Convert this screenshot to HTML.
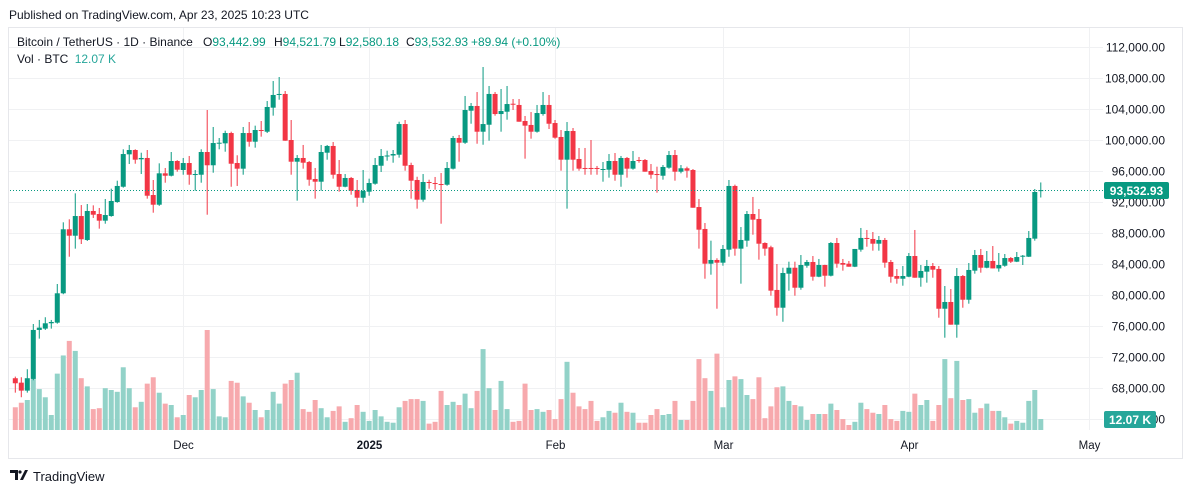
<!DOCTYPE html>
<html><head><meta charset="utf-8"><style>
html,body{margin:0;padding:0;background:#fff;}
body{width:1192px;height:494px;overflow:hidden;font-family:"Liberation Sans",sans-serif;}
svg{display:block}
</style></head><body>
<svg id="chart" width="1192" height="494" viewBox="0 0 1192 494" xmlns="http://www.w3.org/2000/svg" font-family="Liberation Sans, sans-serif">
<text x="9" y="19" font-size="12" fill="#131722">Published on TradingView.com, Apr 23, 2025 10:23 UTC</text>
<rect x="8.5" y="27.5" width="1174" height="431" fill="#fff" stroke="#e6e7eb"/>
<g id="grid"></g>
<g id="vols"></g>
<g id="candles"></g>
<line x1="10" x2="1103" y1="190.5" y2="190.5" stroke="#089981" stroke-dasharray="1,2" stroke-width="1"/>
<g id="yaxis"></g>
<g id="xaxis"></g>
<rect x="1104" y="182" width="65" height="17" rx="2" fill="#089981"/>
<text x="1136.5" y="195" font-size="12" font-weight="bold" fill="#fff" text-anchor="middle">93,532.93</text>
<rect x="1104" y="411" width="52" height="17" rx="2" fill="#26a69a"/>
<text x="1130" y="424" font-size="12" font-weight="bold" fill="#fff" text-anchor="middle">12.07 K</text>
<g font-size="12">
<text x="17" y="46" fill="#131722">Bitcoin / TetherUS · 1D · Binance</text>
<text x="203" y="46" fill="#131722">O<tspan fill="#089981">93,442.99</tspan></text>
<text x="274" y="46" fill="#131722">H<tspan fill="#089981">94,521.79</tspan></text>
<text x="339" y="46" fill="#131722">L<tspan fill="#089981">92,580.18</tspan></text>
<text x="406" y="46" fill="#131722">C<tspan fill="#089981">93,532.93</tspan></text>
<text x="471" y="46" fill="#089981">+89.94 (+0.10%)</text>
<text x="17" y="63" fill="#131722">Vol · BTC <tspan dx="3" fill="#26a69a">12.07 K</tspan></text>
</g>
<g>
<path d="M10 470 h8 v10 h-3 v-7 h-5z M20 480 l5 -10 h3 l-5 10z" fill="#131722"/>
<circle cx="20" cy="472" r="1.6" fill="#131722"/>
<text x="33" y="481" font-size="13" fill="#131722">TradingView</text>
</g>
</svg>
<script>
const opens=[69260,68690,67660,69170,75490,75660,76350,76430,80220,88480,87650,90190,87100,90840,90450,89590,90190,92000,93970,98150,98710,97510,97680,92900,91650,95700,95390,97290,96130,97030,95520,95520,98450,96740,99570,99570,100900,97030,96300,100900,99780,101290,101070,104170,105850,105940,100000,97200,97680,97160,94970,94620,98360,99230,95610,93970,95100,93550,92550,93330,94360,96680,97980,98000,98100,102060,96770,94840,92300,94580,94450,94320,94230,96300,100260,99650,103780,104390,101070,101970,105940,103350,103650,104680,104520,102450,101940,101070,103350,104520,102190,100390,97460,101160,97550,96390,96390,96390,96170,96170,97290,95520,97680,96300,97420,97420,96000,95610,95390,96430,98060,95910,96350,96130,91350,88520,84040,84520,84170,85850,94070,85980,87010,90450,89810,86710,86160,80650,78360,82750,83520,80940,83780,84260,82360,83870,82490,86710,84130,84040,83650,85850,87360,87230,86620,87100,84260,82450,82100,82360,85030,82230,83010,83740,83360,78230,79100,76170,82450,79390,83140,85160,83520,84390,83430,83780,84770,84300,84940,84940,87270,93442.99];
const highs=[69470,69390,70420,76260,76780,77130,76780,81420,89380,89770,93120,91610,91740,91570,91230,92390,93720,94750,98800,99360,98800,98360,98710,94840,96990,96390,98450,97400,97680,97940,96130,98800,103870,101680,100260,101200,101070,98030,101680,102320,101850,102450,105030,107610,108130,106320,102580,98060,99360,97290,96390,99360,99360,99740,97420,95610,95230,94840,96130,95010,97680,98840,98620,98710,102360,102580,97070,95260,95610,94880,95230,95740,97160,100520,100650,105680,104770,106190,109420,106970,106190,106580,106970,105290,105290,103100,103610,104520,106190,105810,102580,101290,102320,101550,98970,98970,100000,96650,97160,98190,98320,97940,97810,98580,97810,97550,96900,96560,96770,98580,98710,96770,96560,96260,92390,89290,87010,84740,86450,94840,94240,88770,90840,92650,91100,86800,86360,84000,83520,84300,84300,85160,84520,85030,84650,83900,86840,87360,84650,84390,85940,88650,88390,88130,87610,87360,84520,83350,83740,85420,88390,83870,84520,84130,83740,81160,80770,83480,82580,84130,85810,85940,85680,86320,85420,85290,84900,85550,85160,88260,93680,94521.79];
const lows=[67400,66810,67400,69000,74370,75490,75660,76300,80100,84940,85980,86580,86970,89940,88560,89200,90100,91900,93850,96900,96940,95610,92430,90620,91500,94490,95300,95910,95520,94230,93460,94490,90360,95780,98800,98490,93970,94070,95520,99140,99010,100430,100900,103140,105200,99900,95520,92170,96300,94100,92430,93460,97460,95010,93330,93900,92940,91390,91910,92810,94230,95870,97330,97070,97720,96040,92430,91140,92040,93720,93590,89200,94100,96200,97200,99500,102100,99520,99390,99910,103140,101070,102620,103870,102360,97590,100170,100950,103140,101420,100170,96040,91140,96040,96040,95520,95520,95520,94620,95140,94750,93970,95140,96170,97070,95910,95010,93200,94880,96300,94750,95700,95140,91260,85980,82100,82620,78230,83780,84940,85070,81460,86230,87780,84560,85070,79910,77330,76550,80560,79910,80680,83520,81850,82300,81070,82400,83520,83140,83650,83600,85590,86230,85720,85720,83520,81590,81460,81200,82300,82230,81070,81590,82230,77070,74490,76170,74490,78360,78880,82750,82880,83450,83430,83010,83650,84130,84250,83870,84900,87010,92580.18];
const closes=[68610,67660,69260,75490,75790,76350,76520,80220,88480,87650,90190,87190,90840,90360,89590,90320,92130,94070,98190,98710,97460,97680,92810,91650,95700,95390,97290,96170,97030,95520,95610,98450,96740,99610,99650,100900,96940,96300,100900,99780,101290,101200,104260,105810,105940,99910,97200,97680,97070,94880,94620,98450,99230,95520,93970,95100,93460,92550,93420,94450,96770,97940,98000,98190,102060,96680,94750,92300,94580,94490,94360,94280,96390,100260,99650,103870,104390,101070,102060,105940,103350,103740,104640,104600,102360,101850,101070,103480,104520,102100,100300,97460,101160,97460,96300,96300,96300,96300,96260,97290,95520,97680,96300,97290,97380,95910,95520,95520,96520,98060,95910,96350,96040,91260,88430,84040,84520,84170,85940,94070,85980,87100,90450,89720,86620,85980,80560,78360,82840,83520,80940,83870,84260,82360,83870,82490,86710,84040,83910,83650,85940,87360,87270,86620,87100,84170,82360,82100,82450,85030,82230,83100,83740,83270,78230,79100,76170,82450,79390,83230,85160,83520,84390,83430,83870,84770,84300,84900,85070,87360,93290,93532.93];
const volumesK=[25,30,33,56,45,36,16.5,62,82,98,87,57,48,23,24,46,44,42,69,46,25,31,51,58,41,29,27.5,14,16.5,38.5,36,44,110,45,15,14,54,52,37,30,22,14,22,42,29,51,55,63,23,20,33,24,14,21,26,9,13,27.5,20,10,22,15,9,8,25,32,34,34,32,7,9,43,27.5,31,27.5,40,24,43,89,46,22,54,23,9,10,51,22,23,20,22,12,34,75,41,26,23,32,10,14,21,19,30,20,19,8,8,16.5,23,16.5,17.6,32,11,11,32,78,57,43,84,25,55,59,56,38.5,34,58,13,26,47,48,32,27.5,26,11,17.6,17.6,17.6,29,22,12,5.5,9,30,23,19,17.6,27.5,12,10,21,20,40,27.5,33,10,27.5,78,35,76,33,34,19,24,29,21,21,14,7,10,8,32,44,12.07];
const priceTicks=[112000,108000,104000,100000,96000,92000,88000,84000,80000,76000,72000,68000,64000];
const monthLabels=["Dec","2025","Feb","Mar","Apr","May"];
const monthDayIndex=[28,59,90,118,149,179];

const NS="http://www.w3.org/2000/svg";
const xOf=i=>15.3+i*5.997;
const yOf=p=>47+(112000-p)*0.00775;
const vOf=v=>430-v/1.1;
function mk(tag,attrs,parent){const e=document.createElementNS(NS,tag);for(const k in attrs)e.setAttribute(k,attrs[k]);parent.appendChild(e);return e;}
const grid=document.getElementById('grid'),ya=document.getElementById('yaxis'),xa=document.getElementById('xaxis');
priceTicks.forEach(p=>{
  const y=Math.round(yOf(p))+0.5;
  const g=mk('line',{x1:9,x2:1103,y1:y,y2:y,stroke:'#f0f1f3'},grid);
  
  
  const t=mk('text',{x:1165,y:y+4,'font-size':12,fill:'#131722','text-anchor':'end'},ya);
  t.textContent=p.toLocaleString('en-US',{minimumFractionDigits:2});
  
  
});
monthLabels.forEach((m,k)=>{
  const x=Math.round(xOf(monthDayIndex[k]))+0.5;
  const g=mk('line',{x1:x,x2:x,y1:28,y2:430,stroke:'#f0f1f3'},grid);
  
  
  const t=mk('text',{x:x,y:449,'font-size':11.5,fill:'#131722','text-anchor':'middle','font-weight':m==='2025'?'bold':'normal'},xa);
  t.textContent=m;
  
  
});
const vg=document.getElementById('vols'),cg=document.getElementById('candles');
closes.forEach((c,i)=>{
  const o=opens[i],up=c>=o,x=xOf(i);
  const col=up?'#089981':'#f23645';
  const vt=vOf(volumesK[i]);
  const vb=mk('rect',{x:x-2.5,y:vt,width:5,height:430-vt,fill:up?'#92d2c8':'#f7a9ad'},vg);
  
  
  const w=mk('line',{x1:x,x2:x,y1:yOf(highs[i]),y2:yOf(lows[i]),stroke:col,'stroke-width':1},cg);
  
  
  const top=yOf(Math.max(o,c)),bot=yOf(Math.min(o,c));
  const b=mk('rect',{x:x-2.5,y:top,width:5,height:Math.max(1,bot-top),fill:col},cg);
  
  
});
</script>
</body></html>
